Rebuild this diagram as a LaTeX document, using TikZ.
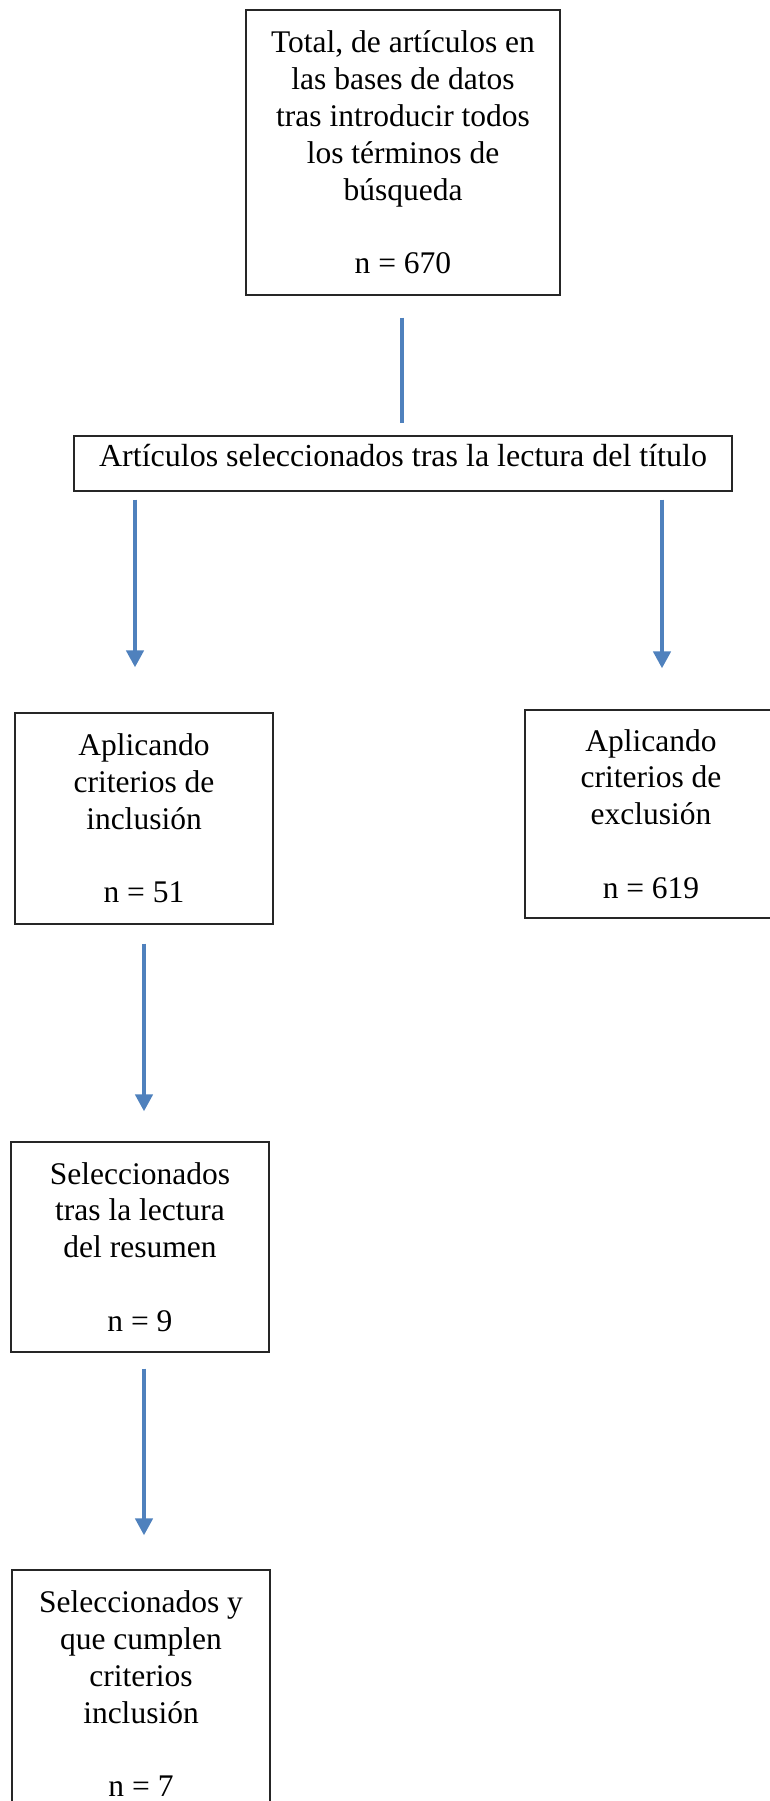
\documentclass[tikz,border=0pt]{standalone}
\usepackage{fontspec}
\setmainfont{Liberation Serif}
\usetikzlibrary{arrows.meta}
\definecolor{arrowblue}{RGB}{79,129,189}
\tikzset{
  box/.style={draw=black!85, line width=1.2pt, align=center, inner sep=0pt,
    font=\fontsize{31.5pt}{36.8pt}\selectfont},
  arr/.style={draw=arrowblue, line width=4.5pt},
  arrhead/.style={arr, -{Triangle[width=17pt,length=17pt]}}
}
\begin{document}
\begin{tikzpicture}[x=1pt,y=-1pt]
\useasboundingbox (0,0) rectangle (770,1801);
\node[box, minimum width=314pt, minimum height=285pt] (b1) at (403,152.5)
  {Total, de artículos en\\las bases de datos\\tras introducir todos\\los términos de\\búsqueda\\[36.8pt]n = 670};
\node[box, minimum width=658pt, minimum height=55pt, text height=0.66em, text depth=0pt,
  font=\fontsize{32pt}{36.8pt}\selectfont] (b2) at (403,463.5)
  {Artículos seleccionados tras la lectura del título};
\node[box, minimum width=258pt, minimum height=211pt] (b3) at (144,818.5)
  {Aplicando\\criterios de\\inclusión\\[36.8pt]n = 51};
\node[box, minimum width=252pt, minimum height=208pt] (b4) at (651,814)
  {Aplicando\\criterios de\\exclusión\\[36.8pt]n = 619};
\node[box, minimum width=258pt, minimum height=210pt] (b5) at (140,1247)
  {Seleccionados\\tras la lectura\\del resumen\\[36.8pt]n = 9};
\node[box, minimum width=258pt, minimum height=248pt] (b6) at (141,1694)
  {Seleccionados y\\que cumplen\\criterios\\inclusión\\[36.8pt]n = 7};
\coordinate (cl) at (135,0);
\coordinate (cr) at (662,0);
\coordinate (cm) at (402,0);
\draw[arr, shorten <=22pt, shorten >=12pt] (b1.south -| cm) -- (b2.north -| cm);
\draw[arrhead, shorten <=8pt, shorten >=45pt] (b2.south -| cl) -- (b3.north -| cl);
\draw[arrhead, shorten <=8pt, shorten >=41pt] (b2.south -| cr) -- (b4.north -| cr);
\draw[arrhead, shorten <=19pt, shorten >=30pt] (b3.south) -- (b5.north -| b3.south);
\draw[arrhead, shorten <=16pt, shorten >=34pt] (b5.south -| b3.south) -- (b6.north -| b3.south);
\end{tikzpicture}
\end{document}
